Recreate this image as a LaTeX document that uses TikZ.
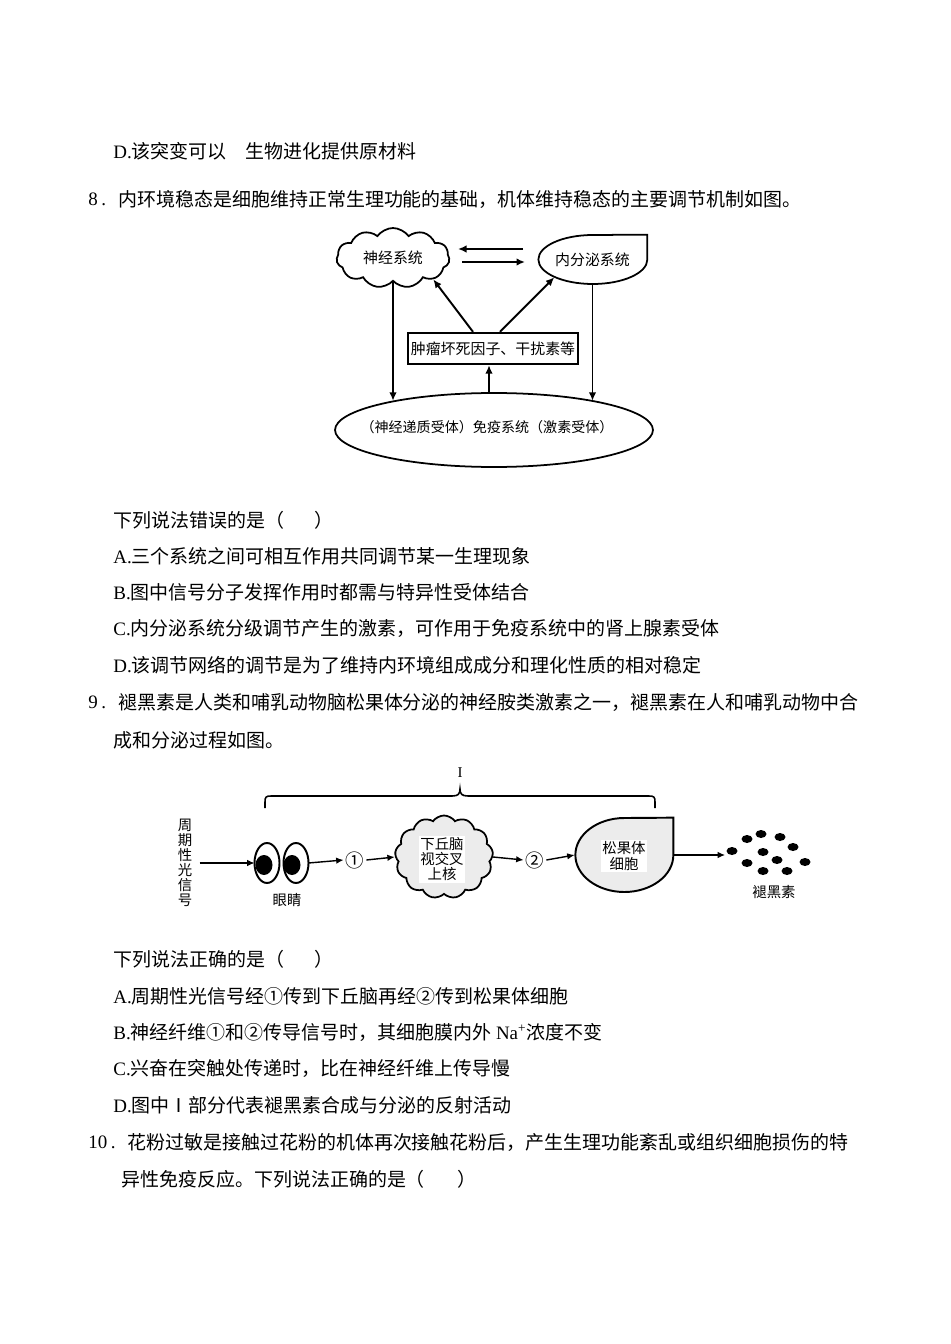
\documentclass[tikz,border=0pt]{standalone}
\usepackage{fontspec}
\setmainfont{Liberation Serif}
\newfontfamily\cjk{Noto Sans CJK SC}
\usetikzlibrary{shapes.geometric,shapes.symbols,arrows.meta}

\tikzset{
  txt/.style={anchor=west, inner sep=0pt, font=\fontsize{10.8pt}{13pt}\selectfont},
  figa/.style={font=\cjk\fontsize{8.5pt}{10pt}\selectfont},
  figb/.style={font=\cjk\fontsize{8.2pt}{8.6pt}\selectfont},
  numb/.style={font=\cjk\fontsize{10.5pt}{11pt}\selectfont, inner sep=1pt},
  arr/.style={-{Latex[length=1.7mm,width=1.5mm]}, line width=1.1pt},
  arrb/.style={-{Latex[length=1.5mm,width=1.3mm]}, line width=0.8pt},
  blob/.style={fill=black}
}

\begin{document}
\begin{tikzpicture}[x=0.02cm, y=-0.02cm]
\useasboundingbox (0,0) rectangle (950,1344);

\node[txt] (q7d) at (113,151) {D.{\cjk 该突变可以　生物进化提供原材料}};
\node[txt] (q8no) at (88,199) {8\kern2pt.};
\node[txt] (q8) at (118,199) {\cjk 内环境稳态是细胞维持正常生理功能的基础，机体维持稳态的主要调节机制如图。};

\node[cloud, cloud puffs=11, cloud puff arc=110, aspect=1.9, draw, line width=1pt,
  minimum width=2.26cm, minimum height=1.2cm, inner sep=0pt, figa] (nerve) at (393,258) {神经系统};
\node[ellipse, minimum width=2.18cm, minimum height=0.98cm, inner sep=0pt, figa] (endo) at (592.5,259.5) {内分泌系统};
\draw[line width=1pt] (endo.east |- endo.north) -- (endo.east)
  arc[start angle=0, end angle=-270, x radius=1.09cm, y radius=0.49cm] -- cycle;
\node[draw, line width=1.3pt, minimum width=3.4cm, minimum height=0.62cm, inner sep=0pt, figa] (tnf) at (493,348.5) {肿瘤坏死因子、干扰素等};
\node[ellipse, draw, line width=1pt, minimum width=6.36cm, minimum height=1.48cm, inner sep=0pt] (immune) at (494,430) {};
\node[inner sep=0pt, font=\cjk\fontsize{8pt}{9pt}\selectfont] (immunetext) at (487,427) {（神经递质受体）免疫系统（激素受体）};

\coordinate (swapa) at (523,249);
\coordinate (swapb) at (458,249);
\coordinate (swapc) at (462,262);
\coordinate (swapd) at (525,262);
\draw[arr] (swapa) -- (swapb);
\draw[arr] (swapc) -- (swapd);
\draw[arr] (nerve.south) -- (nerve.south |- immune.164);
\draw[arr] (endo.south) -- (endo.south |- immune.16);
\draw[arr] ([xshift=-0.1cm]immune.north) -- ([xshift=-0.1cm]immune.north |- tnf.south);
\draw[arr] ([xshift=-0.4cm]tnf.north) -- (nerve.-28);
\draw[arr] ([xshift=0.14cm]tnf.north) -- (endo.-155);

\node[txt] (q8ask) at (113,520) {\cjk 下列说法错误的是（\hspace{1.6em}）};
\node[txt] (q8a) at (113,556) {A.{\cjk 三个系统之间可相互作用共同调节某一生理现象}};
\node[txt] (q8b) at (113,592) {B.{\cjk 图中信号分子发挥作用时都需与特异性受体结合}};
\node[txt] (q8c) at (113,628) {C.{\cjk 内分泌系统分级调节产生的激素，可作用于免疫系统中的肾上腺素受体}};
\node[txt] (q8d) at (113,665) {D.{\cjk 该调节网络的调节是为了维持内环境组成成分和理化性质的相对稳定}};
\node[txt] (q9no) at (88,702) {9\kern2pt.};
\node[txt] (q9) at (118,702) {\cjk 褪黑素是人类和哺乳动物脑松果体分泌的神经胺类激素之一，褪黑素在人和哺乳动物中合};
\node[txt] (q9b) at (113,740) {\cjk 成和分泌过程如图。};

\node[font=\fontsize{8.5pt}{9pt}\selectfont, inner sep=0pt] (part) at (460,773) {I};
\draw[line width=0.9pt] (265,808) -- (265,802) .. controls (265,797) and (266,796) .. (271,796)
  -- (452,796) .. controls (458,796) and (460,794) .. (460,789)
  .. controls (460,794) and (462,796) .. (468,796)
  -- (649,796) .. controls (654,796) and (655,797) .. (655,802) -- (655,808);

\node[figb, align=center, inner sep=0pt] (light) at (185,863) {周\\期\\性\\光\\信\\号};
\node[minimum width=1.06cm, minimum height=0.8cm, inner sep=0pt] (eyes) at (281.5,863) {};
\foreach \ex/\px in {267/264, 296/292} {
  \draw[line width=1.1pt, fill=white] (\ex,863) ellipse [x radius=0.25cm, y radius=0.4cm];
  \fill (\px,865) ellipse [x radius=0.17cm, y radius=0.2cm];
}
\node[figb] (eyelab) at (287,900) {眼睛};
\node[numb] (n1) at (355,860) {①};
\node[cloud, cloud puffs=13, cloud puff arc=110, draw, fill=gray!15, line width=1pt,
  minimum width=1.96cm, minimum height=1.66cm, inner sep=0pt] (scn) at (444,857) {};
\node[figb, fill=white, align=center, inner sep=1pt] (scntext) at (442,859) {下丘脑\\视交叉\\上核};
\node[numb] (n2) at (535,860) {②};
\node[ellipse, minimum width=1.96cm, minimum height=1.48cm, inner sep=0pt] (pineal) at (624,855) {};
\draw[line width=1.1pt, fill=gray!15] (pineal.east |- pineal.north) -- (pineal.east)
  arc[start angle=0, end angle=-270, x radius=0.98cm, y radius=0.74cm] -- cycle;
\node[figb, fill=white, align=center, inner sep=1pt] (pintext) at (624,856) {松果体\\细胞};
\node[minimum width=1.7cm, minimum height=1cm, inner sep=0pt] (mel) at (768,852) {};
\foreach \dx/\dy in {732/851, 747/839, 761/834, 780/837, 793/847, 763/852,
                     747/863, 777/860, 805/862, 763/871, 787/871}
  \fill[blob] (\dx,\dy) ellipse [x radius=0.11cm, y radius=0.08cm];
\node[figb] (mellab) at (774,892) {褪黑素};

\draw[arrb] ([xshift=0.14cm]light.east |- eyes.west) -- (eyes.west);
\draw[arrb] (eyes.east) -- (n1.west);
\draw[arrb] (n1.east) -- (scn.west);
\draw[arrb] (scn.east) -- (n2.west);
\draw[arrb] (n2.east) -- (pineal.west);
\draw[arrb] (pineal.east) -- (pineal.east -| mel.west);

\node[txt] (q9ask) at (113,959) {\cjk 下列说法正确的是（\hspace{1.6em}）};
\node[txt] (q9a) at (113,996) {A.{\cjk 周期性光信号经①传到下丘脑再经②传到松果体细胞}};
\node[txt] (q9bb) at (113,1032) {B.{\cjk 神经纤维①和②传导信号时，其细胞膜内外} Na\textsuperscript{+}{\cjk 浓度不变}};
\node[txt] (q9c) at (113,1068) {C.{\cjk 兴奋在突触处传递时，比在神经纤维上传导慢}};
\node[txt] (q9d) at (113,1105) {D.{\cjk 图中Ⅰ部分代表褪黑素合成与分泌的反射活动}};
\node[txt] (q10no) at (88,1142) {10\kern2pt.};
\node[txt] (q10) at (127,1142) {\cjk 花粉过敏是接触过花粉的机体再次接触花粉后，产生生理功能紊乱或组织细胞损伤的特};
\node[txt] (q10b) at (121,1179) {\cjk 异性免疫反应。下列说法正确的是（\hspace{1.7em}）};
\end{tikzpicture}
\end{document}
